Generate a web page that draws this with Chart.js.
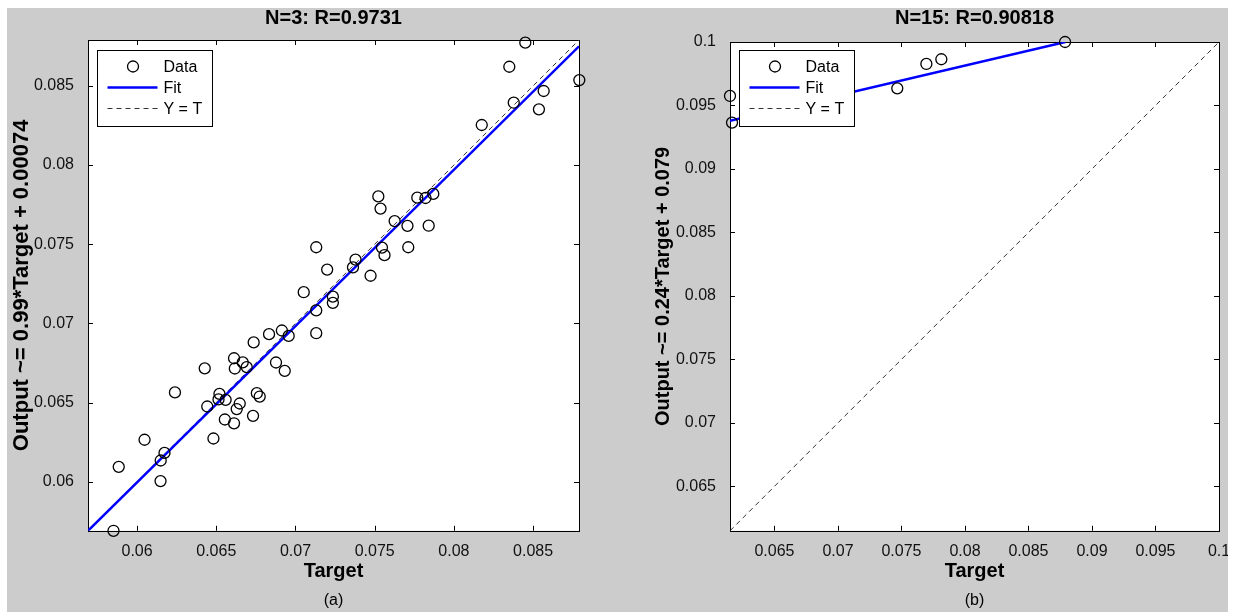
<!DOCTYPE html>
<html lang="en">
<head>
<meta charset="UTF-8" />
<script src="https://cdn.jsdelivr.net/npm/chart.js@4.4.0/dist/chart.umd.min.js"></script>
<style>
  body { margin: 0; background: #fff; }
  #figure { position: relative; width: 1235px; height: 612px; overflow: hidden; }
  #bg { position: absolute; left: 7px; top: 8px; width: 1221px; height: 604px; background: #cccccc; }
  canvas { position: absolute; top: 0; }
  #chart-a { left: 0; }
  #chart-b { left: 617px; }
  #edge { position: absolute; left: 1228px; top: 0; width: 7px; height: 612px; background: #fff; }
</style>
<title>Regression plots</title>
</head>
<body>
<div id="figure">
  <div id="bg"></div>
  <canvas id="chart-a" width="617" height="612"></canvas>
  <canvas id="chart-b" width="618" height="612"></canvas>
  <div id="edge"></div>
</div>
<script>
// panel (a): N=3
const targetA = [
  0.05851, 0.05884, 0.06047, 0.06148, 0.06149, 0.06173, 0.06239, 0.06427, 0.06443, 0.06482,
  0.0652, 0.06514, 0.06559, 0.06554, 0.06612, 0.06629, 0.06648, 0.06732, 0.06756, 0.06774,
  0.06612, 0.06617, 0.06667, 0.06692, 0.06736, 0.06877, 0.06932, 0.06833, 0.06914, 0.06957,
  0.07131, 0.07052, 0.07131, 0.07236, 0.07236, 0.072, 0.07131, 0.07363, 0.07379, 0.07474,
  0.07546, 0.07562, 0.07712, 0.07523, 0.07537, 0.07626, 0.07707, 0.07841, 0.07769, 0.07821,
  0.0787, 0.08176, 0.0835, 0.08378, 0.08451, 0.08537, 0.08567, 0.08792
];
const outputA = [
  0.0569, 0.06094, 0.06265, 0.06004, 0.06134, 0.06182, 0.06564, 0.06716, 0.06475, 0.06273,
  0.06555, 0.0652, 0.06517, 0.06393, 0.06369, 0.06459, 0.06494, 0.06416, 0.06559, 0.06538,
  0.0678, 0.06715, 0.06754, 0.06724, 0.0688, 0.06753, 0.067, 0.06932, 0.06955, 0.06921,
  0.06938, 0.07197, 0.07082, 0.07169, 0.0713, 0.0734, 0.07481, 0.07354, 0.07403, 0.07301,
  0.07479, 0.07431, 0.07481, 0.07802, 0.07725, 0.07646, 0.07616, 0.07617, 0.07794, 0.07792,
  0.07818, 0.08253, 0.08621, 0.08394, 0.08773, 0.08352, 0.08468, 0.08537
];
const fitXA = [0.0569, 0.0879];
const fitYA = [0.0569, 0.0875];
const rangeA = [0.0569, 0.0879];
const ticksA = [0.06, 0.065, 0.07, 0.075, 0.08, 0.085];

// panel (b): N=15
const targetB = [0.0615, 0.06166, 0.07467, 0.07696, 0.07814, 0.08788];
const outputB = [0.09575, 0.09365, 0.09635, 0.09827, 0.09864, 0.1];
const fitXB = [0.0615, 0.0879];
const fitYB = [0.0938, 0.1];
const rangeB = [0.0615, 0.1];
const ticksB = [0.065, 0.07, 0.075, 0.08, 0.085, 0.09, 0.095, 0.1];

const FONT = "Arial, 'Liberation Sans', Helvetica, sans-serif";

// white axes box, frame and inward ticks like matlab, plus the boxed legend
const matlabAxes = {
  id: 'matlabAxes',
  beforeDraw(chart) {
    const { ctx, chartArea: a } = chart;
    ctx.save();
    ctx.fillStyle = '#fff';
    ctx.fillRect(a.left, a.top, a.width, a.height);
    ctx.restore();
  },
  beforeDatasetsDraw(chart) {
    const { ctx, chartArea: a, scales } = chart;
    const len = 5;
    ctx.save();
    ctx.strokeStyle = '#000';
    ctx.lineWidth = 1;
    ctx.beginPath();
    scales.x.ticks.forEach(t => {
      const px = Math.round(scales.x.getPixelForValue(t.value)) + 0.5;
      ctx.moveTo(px, a.bottom); ctx.lineTo(px, a.bottom - len);
      ctx.moveTo(px, a.top); ctx.lineTo(px, a.top + len);
    });
    scales.y.ticks.forEach(t => {
      const py = Math.round(scales.y.getPixelForValue(t.value)) + 0.5;
      ctx.moveTo(a.left, py); ctx.lineTo(a.left + len, py);
      ctx.moveTo(a.right, py); ctx.lineTo(a.right - len, py);
    });
    ctx.stroke();
    ctx.strokeRect(Math.round(a.left) + 0.5, Math.round(a.top) + 0.5, Math.round(a.width), Math.round(a.height));
    ctx.restore();
  },
  afterDatasetsDraw(chart, args, opts) {
    const { ctx, chartArea: a } = chart;
    const bx = Math.round(a.left + 9) + 0.5;
    const by = Math.round(a.top + opts.top) + 0.5;
    ctx.save();
    ctx.fillStyle = '#fff';
    ctx.strokeStyle = '#000';
    ctx.lineWidth = 1;
    ctx.fillRect(bx, by, 115, 76);
    ctx.strokeRect(bx, by, 115, 76);
    ctx.font = '16px ' + FONT;
    ctx.textBaseline = 'middle';
    chart.data.datasets.forEach((ds, i) => {
      const ly = by + 16 + i * 21;
      ctx.save();
      ctx.strokeStyle = ds.borderColor;
      if (ds.showLine) {
        ctx.lineWidth = ds.borderWidth;
        ctx.setLineDash(ds.borderDash || []);
        ctx.beginPath();
        ctx.moveTo(bx + 10, ly); ctx.lineTo(bx + 60, ly);
        ctx.stroke();
      } else {
        ctx.lineWidth = ds.pointBorderWidth;
        ctx.beginPath();
        ctx.arc(bx + 35.5, ly, ds.pointRadius, 0, Math.PI * 2);
        ctx.stroke();
      }
      ctx.restore();
      ctx.fillStyle = '#000';
      ctx.fillText(ds.label, bx + 66, ly + 1);
    });
    ctx.restore();
  }
};

function buildPanel(id, p) {
  const points = p.target.map((t, i) => ({ x: t, y: p.output[i] }));
  const fit = p.fitX.map((t, i) => ({ x: t, y: p.fitY[i] }));
  const ident = p.range.map(v => ({ x: v, y: v }));
  const tickFont = { family: FONT, size: 16 };
  const titleFont = { family: FONT, size: 20, weight: 'bold' };
  const fmt = v => String(+v.toFixed(4));

  return new Chart(document.getElementById(id), {
    type: 'scatter',
    data: {
      datasets: [
        { label: 'Data', data: points, showLine: false, pointStyle: 'circle', pointRadius: 5.5, pointHoverRadius: 5.5,
          pointBorderWidth: 1.3, borderColor: '#000', backgroundColor: 'rgba(0,0,0,0)', clip: false },
        { label: 'Fit', data: fit, showLine: true, pointRadius: 0, borderColor: '#0000ff', borderWidth: 2.5 },
        { label: 'Y = T', data: ident, showLine: true, pointRadius: 0, borderColor: '#333', borderWidth: 1, borderDash: [5, 4] }
      ]
    },
    options: {
      responsive: false,
      animation: false,
      devicePixelRatio: 1,
      layout: { padding: { left: 0, right: p.padRight, top: 0, bottom: 0 } },
      scales: {
        x: {
          type: 'linear', position: 'bottom', min: p.range[0], max: p.range[1],
          afterBuildTicks: s => { s.ticks = p.ticks.map(v => ({ value: v })); },
          afterFit: s => { s.height = 60; },
          grid: { display: false }, border: { display: false },
          ticks: { color: '#111', font: tickFont, padding: 3, autoSkip: false, maxRotation: 0, callback: fmt },
          title: { display: true, text: 'Target', color: '#000', font: titleFont, padding: { top: 0, bottom: 7 } }
        },
        y: {
          type: 'linear', position: 'left', min: p.range[0], max: p.range[1],
          afterBuildTicks: s => { s.ticks = p.ticks.map(v => ({ value: v })); },
          afterFit: s => { s.width = p.yWidth; },
          grid: { display: false }, border: { display: false },
          ticks: { color: '#111', font: tickFont, padding: 6, autoSkip: false, callback: fmt },
          title: { display: true, text: p.yTitle, color: '#000', font: { family: FONT, size: p.yTitleSize, weight: 'bold' },
            padding: { top: p.yTitlePad, bottom: 0 } }
        }
      },
      plugins: {
        legend: { display: false },
        tooltip: { enabled: false },
        title: { display: true, text: p.title, fullSize: false, color: '#000', font: titleFont, padding: { top: 6, bottom: p.titleGap } },
        subtitle: { display: true, position: 'bottom', text: p.label, fullSize: false, color: '#000',
          font: { family: FONT, size: 16, weight: 'normal' }, padding: { top: 0, bottom: 2 } },
        matlabAxes: { top: p.legendTop }
      }
    },
    plugins: [matlabAxes]
  });
}

buildPanel('chart-a', {
  target: targetA, output: outputA, fitX: fitXA, fitY: fitYA, range: rangeA, ticks: ticksA,
  title: 'N=3: R=0.9731', yTitle: 'Output ~= 0.99*Target + 0.00074', label: '(a)',
  yWidth: 88, padRight: 38, titleGap: 10, yTitlePad: 9, yTitleSize: 22, legendTop: 10
});

buildPanel('chart-b', {
  target: targetB, output: outputB, fitX: fitXB, fitY: fitYB, range: rangeB, ticks: ticksB,
  title: 'N=15: R=0.90818', yTitle: 'Output ~= 0.24*Target + 0.079', label: '(b)',
  yWidth: 113, padRight: 16, titleGap: 12, yTitlePad: 34, yTitleSize: 20, legendTop: 8
});
</script>
</body>
</html>
